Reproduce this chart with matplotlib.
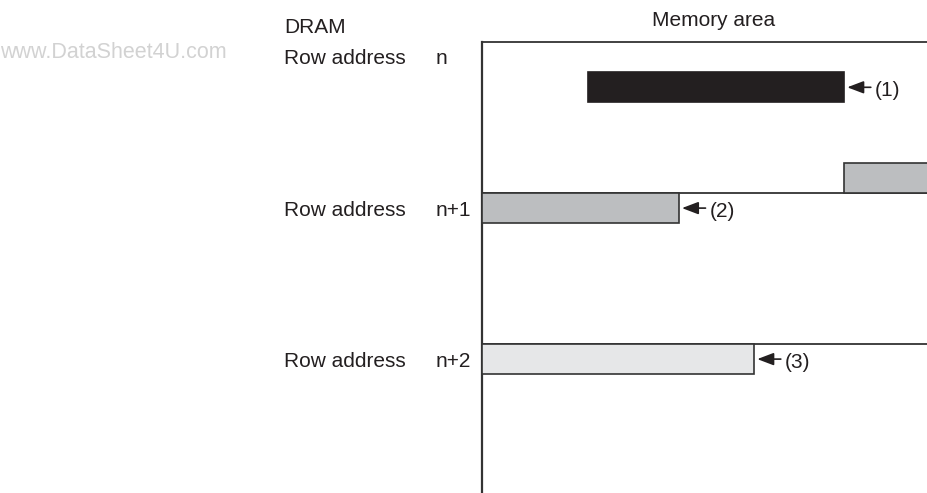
"""
plot.py
DRAM memory area diagram: burst transfers (1)-(3) laid out over row addresses n, n+1, n+2
"""
import matplotlib.pyplot as plt
import matplotlib.transforms as mtransforms

# rows of the DRAM shown, top to bottom
row_names = ["n", "n+1", "n+2"]
row_index = [0, 1, 2]

# filled segments: row, offset inside the row (row units), start / end column (fraction of row)
seg_row = [0, 0, 1, 2]
seg_offset = [0.2, 0.8, 0.0, 0.0]
seg_start = [0.236, 0.811, 0.0, 0.0]
seg_end = [0.811, 1.05, 0.440, 0.609]
seg_color = ["#231f20", "#bcbec0", "#bcbec0", "#e6e7e8"]
seg_edge = ["#231f20", "#333333", "#333333", "#333333"]

# callouts: label and which segment they point at
callout_text = ["(1)", "(2)", "(3)"]
callout_seg = [0, 2, 3]

BAR_H = 0.2
TEXT_COLOR = "#231f20"


def draw():
    plt.rcParams['font.family'] = ['Liberation Sans', 'DejaVu Sans']
    fig = plt.figure(figsize=(9.28, 4.93), dpi=100)
    W, H = 928.0, 493.0
    # memory area box starts at x=482.5px, top line at y=42px
    ax = fig.add_axes([482.5 / W, 0, 1 - 482.5 / W, 1 - 42 / H])
    ax.set_xlim(0, 1)
    ax.set_ylim(451 / 151, 0)
    ax.axis('off')

    # left border of the memory area
    ax.axvline(0, color="#333333", lw=1.6, clip_on=False)
    # row boundaries
    for r in row_index:
        ax.axhline(r, color="#333333", lw=1.3, clip_on=False, zorder=1)

    for i in range(len(seg_row)):
        y0 = seg_row[i] + seg_offset[i]
        ax.barh(y0, seg_end[i] - seg_start[i], left=seg_start[i], height=BAR_H,
                align='edge', color=seg_color[i], edgecolor=seg_edge[i],
                lw=1.2, zorder=2)

    # arrows with (1), (2), (3)
    for label, s in zip(callout_text, callout_seg):
        mid = seg_row[s] + seg_offset[s] + BAR_H / 2
        end = seg_end[s]
        ax.annotate("", xy=(end, mid), xytext=(27, 0), textcoords='offset pixels',
                    arrowprops=dict(arrowstyle='-|>,head_length=1.0,head_width=0.38',
                                    mutation_scale=10, color=TEXT_COLOR, lw=1.2,
                                    shrinkA=0, shrinkB=2.5))
        ax.annotate(label, xy=(end, mid), xytext=(31, -9), textcoords='offset pixels',
                    ha='left', va='baseline', fontsize=15, color=TEXT_COLOR)

    # row labels: x in figure, y in data
    trans = mtransforms.blended_transform_factory(fig.transFigure, ax.transData)
    for r, name in zip(row_index, row_names):
        yb = r + 22.5 / 151
        fig.text(284 / W, 0, "Row address", transform=trans, fontsize=15,
                 color=TEXT_COLOR, ha='left', va='baseline').set_y(yb)
        fig.text(436 / W, 0, name, transform=trans, fontsize=15,
                 color=TEXT_COLOR, ha='left', va='baseline').set_y(yb)

    fig.text(284 / W, 1 - 33 / H, "DRAM", fontsize=15, color=TEXT_COLOR,
             ha='left', va='baseline')
    fig.text(714 / W, 1 - 26 / H, "Memory area", fontsize=15, color=TEXT_COLOR,
             ha='center', va='baseline')
    fig.text(0, 1 - 58 / H, "www.DataSheet4U.com", fontsize=15.5, color="#d2d2d2",
             ha='left', va='baseline')

    fig.savefig("out.png", dpi=100)


if __name__ == '__main__':
    draw()
